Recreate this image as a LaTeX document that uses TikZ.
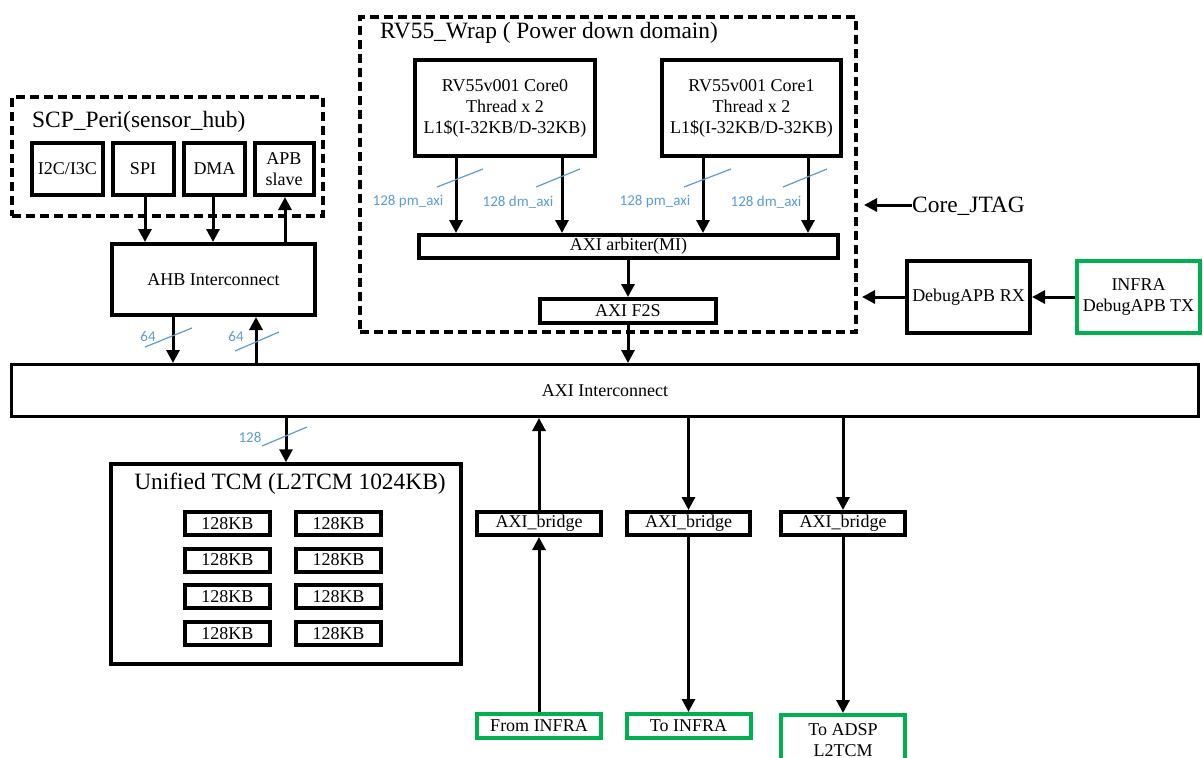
\documentclass[tikz,border=0pt]{standalone}
\usepackage{fontspec}
\setmainfont{Liberation Serif}
\newfontfamily\labfont{Carlito}
\usetikzlibrary{arrows.meta,calc}
\definecolor{grn}{RGB}{0,176,80}
\definecolor{lblue}{RGB}{91,155,213}
\begin{document}
\begin{tikzpicture}[x=1pt,y=-1pt,
  txt/.style={font=\fontsize{18}{21}\selectfont},
  ttl/.style={font=\fontsize{23.4}{27}\selectfont, inner sep=0pt},
  box/.style={draw=black, line width=4pt, fill=white, inner sep=0pt, txt, align=center},
  gbox/.style={draw=grn, line width=4pt, fill=white, inner sep=0pt, txt, align=center},
  dbox/.style={draw=black, line width=4pt, dash pattern=on 9pt off 5pt, inner sep=0pt},
  arr/.style={line width=3pt, -{Triangle[length=13pt,width=13pt]}},
  slash/.style={draw=lblue, line width=1.2pt},
  lab/.style={font=\labfont\fontsize{15}{17}\selectfont, text=lblue, inner sep=0pt}
]
\useasboundingbox (0,0) rectangle (1203,758);

% ---------- SCP_Peri ----------
\node[dbox, minimum width=311pt, minimum height=119pt] (scp) at (167.5,156.5) {};
\node[ttl, anchor=west] (scpt) at (32,122) {SCP\_Peri(sensor\_hub)};
\node[box, minimum width=71pt, minimum height=52pt] (i2c) at (67.5,169) {I2C/I3C};
\node[box, minimum width=61pt, minimum height=52pt] (spi) at (143,169) {SPI};
\node[box, minimum width=61pt, minimum height=52pt] (dma) at (214.5,169) {DMA};
\node[box, minimum width=59pt, minimum height=52pt] (apb) at (284,169) {APB\\slave};

\node[box, minimum width=203pt, minimum height=71pt] (ahb) at (213.5,279.5) {AHB Interconnect};

\draw[arr] (145,0 |- spi.south) -- (145,0 |- ahb.north);
\draw[arr] (213,0 |- dma.south) -- (213,0 |- ahb.north);
\draw[arr] (285,0 |- ahb.north) -- (285,0 |- apb.south);

% ---------- AXI Interconnect ----------
\node[box, line width=3pt, minimum width=1187pt, minimum height=52pt] (axi) at (605,390.5) {AXI Interconnect};

\draw[arr] (173,0 |- ahb.south) -- (173,0 |- axi.north);
\draw[arr] (256,0 |- axi.north) -- (256,0 |- ahb.south);
\draw[slash] (145,347) -- (192,328);
\draw[slash] (235,351) -- (279,332);
\node[lab] (l64a) at (148,336) {64};
\node[lab] (l64b) at (236,336) {64};

% ---------- Unified TCM ----------
\node[box, line width=3.5pt, minimum width=350pt, minimum height=200pt] (tcm) at (286,564) {};
\node[ttl] (tcmt) at (290,484) {Unified TCM (L2TCM 1024KB)};
\foreach \r/\yy in {1/523.5,2/560,3/596.5,4/633.5}{
  \node[box, minimum width=85pt, minimum height=23pt] (ma\r) at (227.5,\yy) {128KB};
  \node[box, minimum width=85pt, minimum height=23pt] (mb\r) at (338.5,\yy) {128KB};
}
\draw[arr] (286,0 |- axi.south) -- (286,0 |- tcm.north);
\draw[slash] (262,446) -- (307,427);
\node[lab] (l128) at (250,437) {128};

% ---------- RV55_Wrap ----------
\node[dbox, minimum width=496pt, minimum height=315pt] (rv) at (608,174.5) {};
\node[ttl, anchor=west] (rvt) at (380,33) {RV55\_Wrap ( Power down domain)};
\node[box, minimum width=180pt, minimum height=96pt] (core0) at (505,108) {RV55v001 Core0\\Thread x 2\\L1\$(I-32KB/D-32KB)};
\node[box, minimum width=179pt, minimum height=96pt] (core1) at (751.5,108) {RV55v001 Core1\\Thread x 2\\L1\$(I-32KB/D-32KB)};
\node[box, minimum width=419pt, minimum height=23pt] (arb) at (628.5,246.5) {AXI arbiter(MI)};
\node[box, minimum width=176pt, minimum height=24pt] (f2s) at (628,311) {AXI F2S};

\draw[arr] (456,0 |- core0.south) -- (456,0 |- arb.north);
\draw[arr] (562,0 |- core0.south) -- (562,0 |- arb.north);
\draw[arr] (703,0 |- core1.south) -- (703,0 |- arb.north);
\draw[arr] (808,0 |- core1.south) -- (808,0 |- arb.north);
\draw[slash] (437,187) -- (483,169);
\draw[slash] (536,187) -- (580,169);
\draw[slash] (684,187) -- (731,169);
\draw[slash] (783,187) -- (827,169);
\node[lab] (lp0) at (408,202) {128 pm\_axi};
\node[lab] (ld0) at (518,202) {128 dm\_axi};
\node[lab] (lp1) at (655,202) {128 pm\_axi};
\node[lab] (ld1) at (766,202) {128 dm\_axi};

\draw[arr] (arb.south -| f2s.north) -- (f2s.north);
\draw[arr] (f2s.south) -- (f2s.south |- axi.north);

% ---------- JTAG / Debug ----------
\node[ttl, anchor=west] (jtag) at (912,206) {Core\_JTAG};
\coordinate (jtagend) at (864,205);
\draw[arr] (jtag.west |- jtagend) -- (jtagend);

\node[box, minimum width=123pt, minimum height=72pt] (rx) at (968.5,297) {DebugAPB RX};
\node[gbox, minimum width=123pt, minimum height=72pt] (tx) at (1138.5,297) {INFRA\\DebugAPB TX};
\coordinate (rxend) at (862,297);
\draw[arr] (tx.west) -- (rx.east);
\draw[arr] (rx.west) -- (rxend);

% ---------- Bridges ----------
\node[box, minimum width=124pt, minimum height=23pt] (br1) at (539,523.5) {AXI\_bridge};
\node[box, minimum width=123pt, minimum height=23pt] (br2) at (688.5,523.5) {AXI\_bridge};
\node[box, minimum width=124pt, minimum height=23pt] (br3) at (843,523.5) {AXI\_bridge};
\node[gbox, minimum width=124pt, minimum height=24pt] (from) at (539,726) {From INFRA};
\node[gbox, minimum width=124pt, minimum height=24pt] (toinfra) at (688.5,726) {To INFRA};
\node[gbox, minimum width=124pt, minimum height=50pt, anchor=north, font=\fontsize{18}{21}\selectfont] (toadsp) at (843,713) {To ADSP\\L2TCM};

\draw[arr] (from.north) -- (br1.south);
\draw[arr] (br1.north) -- (br1.north |- axi.south);
\draw[arr] (br2.north |- axi.south) -- (br2.north);
\draw[arr] (br2.south) -- (toinfra.north);
\draw[arr] (br3.north |- axi.south) -- (br3.north);
\draw[arr] (br3.south) -- (toadsp.north);
\end{tikzpicture}
\end{document}
